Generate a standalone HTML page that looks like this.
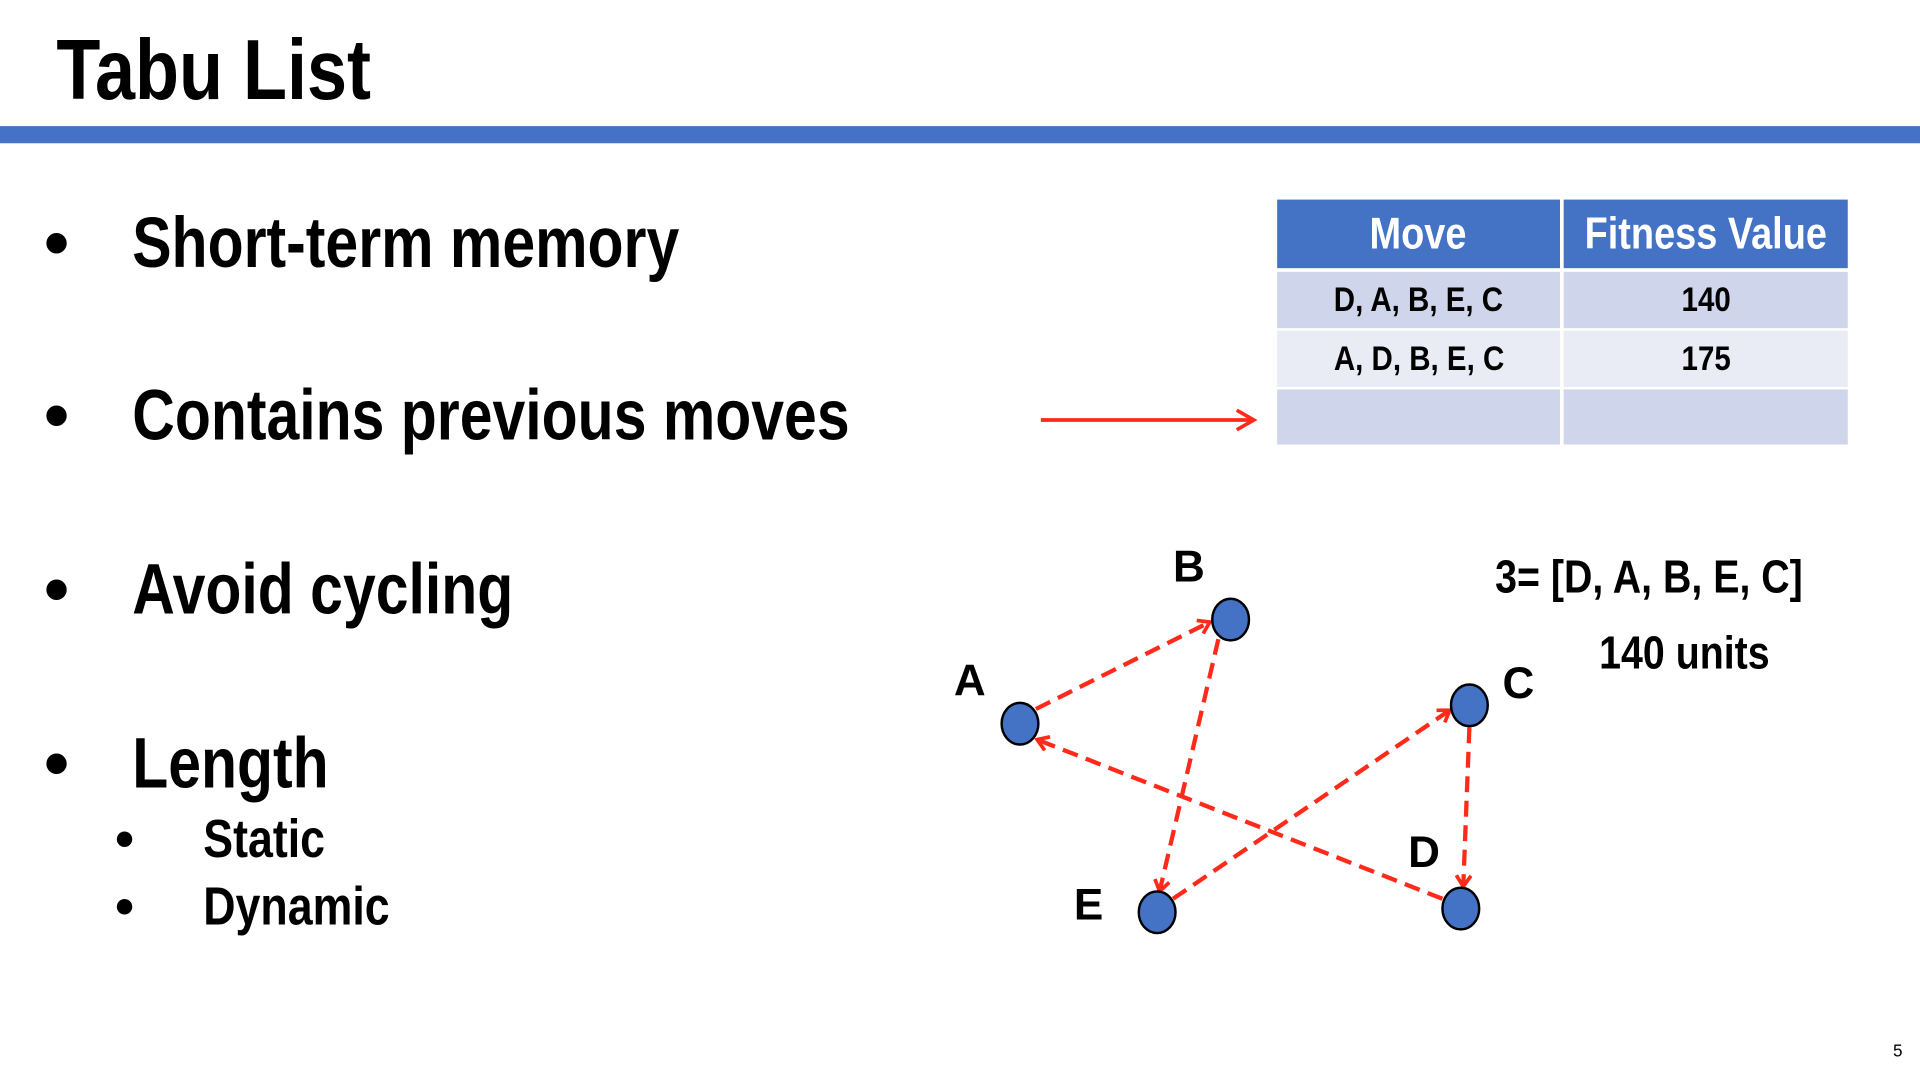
<!DOCTYPE html>
<html><head><meta charset="utf-8"><style>
html,body{margin:0;padding:0;background:#fff;overflow:hidden}
#wrap{position:absolute;left:0;top:0;width:1568px;height:882px;transform:scale(1.22449);transform-origin:0 0;font-family:"Liberation Sans",sans-serif;font-weight:bold;color:#000}
.t{position:absolute;white-space:nowrap;line-height:1}
.n{display:inline-block;transform:scaleX(.83);transform-origin:0 0}
.cell{position:absolute;display:flex;align-items:center;justify-content:center;font-size:28px;white-space:nowrap}
.cell span{display:inline-block;transform:scaleX(.86);transform-origin:50% 50%}
</style></head><body>
<div id="wrap">
<div class="t" style="left:46px;top:22px;font-size:70px"><span class="n" style="transform:scaleX(.84)">Tabu List</span></div>
<div style="position:absolute;left:0;top:103px;width:1568px;height:14px;background:#4472C4"></div>

<div class="t" style="left:36px;top:170px;font-size:58px"><span style="position:absolute;left:0">•</span><span class="n" style="position:absolute;left:72px">Short-term memory</span></div>
<div class="t" style="left:36px;top:311px;font-size:58px"><span style="position:absolute;left:0">•</span><span class="n" style="position:absolute;left:72px">Contains previous moves</span></div>
<div class="t" style="left:36px;top:453px;font-size:58px"><span style="position:absolute;left:0">•</span><span class="n" style="position:absolute;left:72px">Avoid cycling</span></div>
<div class="t" style="left:36px;top:595px;font-size:58px"><span style="position:absolute;left:0">•</span><span class="n" style="position:absolute;left:72px">Length</span></div>
<div class="t" style="left:94px;top:664px;font-size:44px"><span style="position:absolute;left:0">•</span><span class="n" style="position:absolute;left:72px">Static</span></div>
<div class="t" style="left:94px;top:719px;font-size:44px"><span style="position:absolute;left:0">•</span><span class="n" style="position:absolute;left:72px">Dynamic</span></div>

<div>
<div class="cell" style="left:1043px;top:163px;width:231px;height:56px;background:#4472C4;color:#fff;font-size:36px"><span>Move</span></div>
<div class="cell" style="left:1277px;top:163px;width:232px;height:56px;background:#4472C4;color:#fff;font-size:36px"><span>Fitness Value</span></div>
<div class="cell" style="left:1043px;top:222px;width:231px;height:46px;background:#CFD5EA"><span>D, A, B, E, C</span></div>
<div class="cell" style="left:1277px;top:222px;width:232px;height:46px;background:#CFD5EA"><span>140</span></div>
<div class="cell" style="left:1043px;top:270px;width:231px;height:46px;background:#E9EBF5"><span>A, D, B, E, C</span></div>
<div class="cell" style="left:1277px;top:270px;width:232px;height:46px;background:#E9EBF5"><span>175</span></div>
<div class="cell" style="left:1043px;top:318px;width:231px;height:45px;background:#CFD5EA"></div>
<div class="cell" style="left:1277px;top:318px;width:232px;height:45px;background:#CFD5EA"></div>
</div>

<svg width="1568" height="882" style="position:absolute;left:0;top:0" font-family="Liberation Sans, sans-serif" font-weight="bold">
<defs><marker id="ah" markerWidth="14" markerHeight="14" refX="11" refY="7" orient="auto" markerUnits="userSpaceOnUse"><path d="M2,1 L11,7 L2,13" fill="none" stroke="#FF2A1A" stroke-width="3"/></marker>
<marker id="ah2" markerWidth="20" markerHeight="20" refX="17" refY="10" orient="auto" markerUnits="userSpaceOnUse"><path d="M3,2 L17,10 L3,18" fill="none" stroke="#FF2A1A" stroke-width="3"/></marker></defs>
<line x1="850" y1="343" x2="1024" y2="343" stroke="#FF2A1A" stroke-width="3" marker-end="url(#ah2)"/>
<g stroke="#FF2A1A" stroke-width="3.5" stroke-dasharray="13,7" fill="none">
<line x1="846" y1="579" x2="988" y2="508" marker-end="url(#ah)"/>
<line x1="995" y1="522" x2="947" y2="728" marker-end="url(#ah)"/>
<line x1="958" y1="734" x2="1184" y2="580" marker-end="url(#ah)"/>
<line x1="1200" y1="594" x2="1195" y2="724" marker-end="url(#ah)"/>
<line x1="1178" y1="734" x2="847" y2="604" marker-end="url(#ah)"/>
</g>
<g fill="#4472C4" stroke="#000" stroke-width="2">
<ellipse cx="1005" cy="506" rx="15" ry="17"/>
<ellipse cx="833" cy="591" rx="15" ry="17"/>
<ellipse cx="1200" cy="576" rx="15" ry="17"/>
<ellipse cx="945" cy="745" rx="15" ry="17"/>
<ellipse cx="1193" cy="742" rx="15" ry="17"/>
</g>
<g font-size="36" fill="#000">
<text x="958" y="475">B</text>
<text x="779" y="568">A</text>
<text x="1227" y="570">C</text>
<text x="877" y="751">E</text>
<text x="1150" y="708">D</text>
</g>
</svg>
<div class="t" style="left:1221px;top:453px;font-size:38px"><span class="n" style="transform:scaleX(.845)">3= [D, A, B, E, C]</span></div>
<div class="t" style="left:1306px;top:515px;font-size:38px"><span class="n" style="transform:scaleX(.845)">140 units</span></div>
<div class="t" style="left:1546px;top:851px;font-size:14px;font-weight:normal">5</div>
</div>
</body></html>
